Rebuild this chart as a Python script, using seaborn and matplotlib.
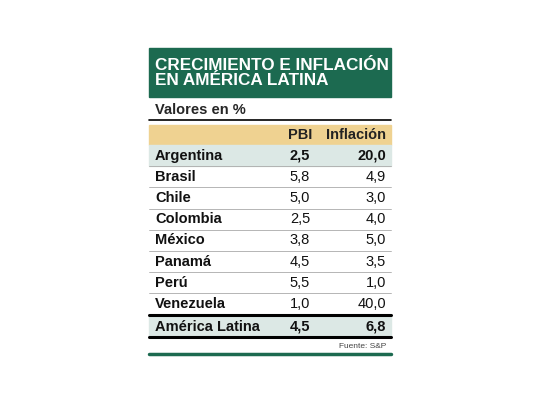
import matplotlib
matplotlib.use("Agg")
import matplotlib.pyplot as plt
import seaborn as sns

paises = ["Argentina", "Brasil", "Chile", "Colombia", "México", "Panamá", "Perú", "Venezuela", "América Latina"]
pbi = [2.5, 5.8, 5.0, 2.5, 3.8, 4.5, 5.5, 1.0, 4.5]
inflacion = [20.0, 4.9, 3.0, 4.0, 5.0, 3.5, 1.0, 40.0, 6.8]
columnas = ["PBI", "Inflación"]

sns.set_style("white")
plt.rcParams['font.family'] = ['Liberation Sans Narrow', 'Liberation Sans', 'DejaVu Sans']

fig = plt.figure(figsize=(5.4, 4.05), dpi=100)
ax = fig.add_axes([0, 0, 1, 1])
ax.set_xlim(0, 540)
ax.set_ylim(405, 0)
ax.axis("off")

x0, x1 = 149, 391
verde = "#1c6a50"

# titulo
ax.add_patch(plt.Rectangle((x0, 48), x1 - x0, 49, color=verde))
ax.text(155, 73, "CRECIMIENTO E INFLACIÓN\nEN AMÉRICA LATINA", color="white",
        fontsize=12.3, fontweight="bold", va="center", ha="left", linespacing=1.05)
ax.text(155, 110, "Valores en %", fontsize=10.5, fontweight="bold", va="center")
ax.plot([x0, x1], [120, 120], color="black", lw=1.2)

# encabezado
ax.add_patch(plt.Rectangle((x0, 125), x1 - x0, 20, color="#efd291"))
ax.text(300, 135, columnas[0], fontsize=10.5, fontweight="bold", ha="center", va="center", color="#222")
ax.text(386, 135, columnas[1], fontsize=10.5, fontweight="bold", ha="right", va="center", color="#222")

h = 21.2
y = 145
for i, (p, a, b) in enumerate(zip(paises, pbi, inflacion)):
    destacado = i == 0 or i == len(paises) - 1
    if i == len(paises) - 1:
        y += 1.5
    if destacado:
        ax.add_patch(plt.Rectangle((x0, y), x1 - x0, h, color="#dce8e5"))
    fw = "bold" if destacado else "normal"
    yc = y + h / 2
    ax.text(155, yc, p, fontsize=10.5, fontweight="bold", va="center", color="#111")
    ax.text(300, yc, f"{a:.1f}".replace(".", ","), fontsize=10.5, fontweight=fw, ha="center", va="center", color="#111")
    ax.text(386, yc, f"{b:.1f}".replace(".", ","), fontsize=10.5, fontweight=fw, ha="right", va="center", color="#111")
    y += h
    if i < len(paises) - 2:
        ax.plot([x0, x1], [y, y], color="#aaaaaa", lw=0.6)
    elif i == len(paises) - 2:
        ax.plot([x0, x1], [y + 0.5, y + 0.5], color="black", lw=2.2)
    else:
        ax.plot([x0, x1], [y, y], color="black", lw=2.2)

ax.text(386, 347, "Fuente: S&P", fontsize=6, ha="right", va="center", color="#444")
ax.plot([x0, x1], [354, 354], color=verde, lw=2.5)

fig.savefig("out.png", dpi=100)
